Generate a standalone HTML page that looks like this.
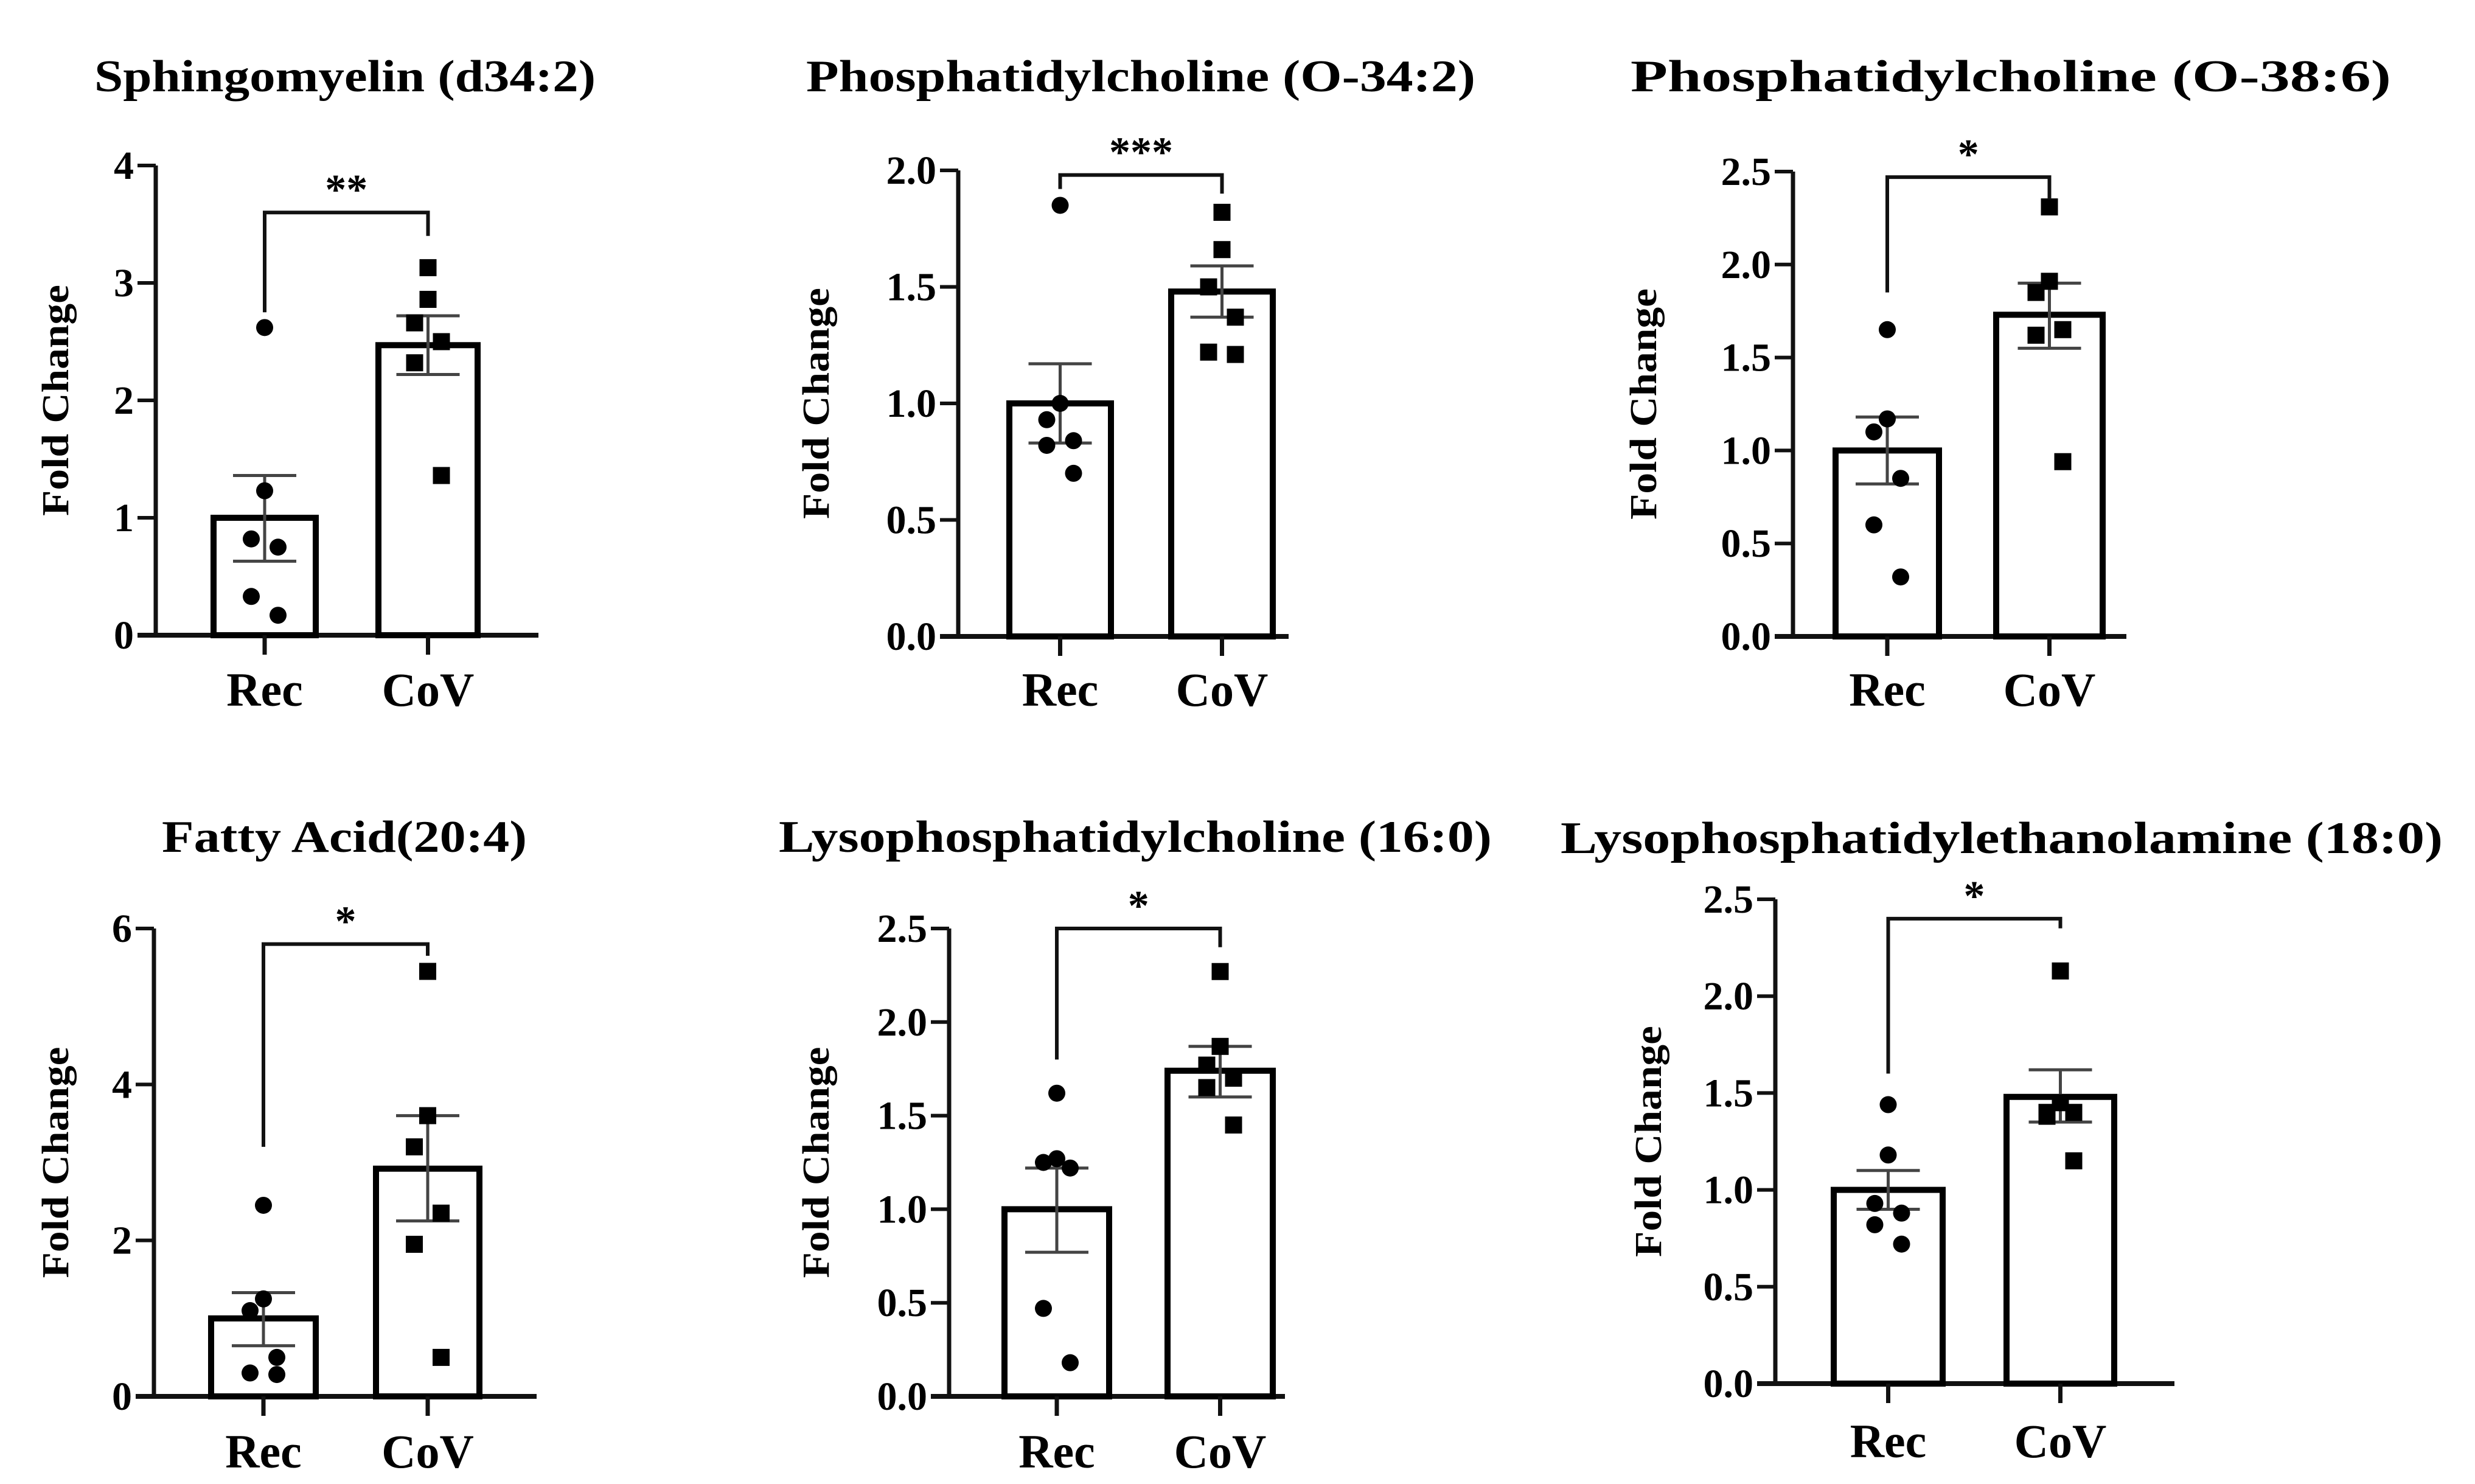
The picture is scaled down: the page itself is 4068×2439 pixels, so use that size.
<!DOCTYPE html>
<html><head><meta charset="utf-8">
<style>
html,body{margin:0;padding:0;background:#fff;}
svg{display:block;font-family:"Liberation Serif",serif;font-weight:bold;}
</style></head>
<body>
<svg id="fig" width="4068" height="2439" viewBox="0 0 4068 2439" xmlns="http://www.w3.org/2000/svg"></svg>
<script>
// ---- data ----
const titles = ["Sphingomyelin (d34:2)","Phosphatidylcholine (O-34:2)","Phosphatidylcholine (O-38:6)","Fatty Acid(20:4)","Lysophosphatidylcholine (16:0)","Lysophosphatidylethanolamine (18:0)"];
const categories = ["Rec","CoV"];
const sigLabels = ["**","***","*","*","*","*"];
const yMax = [4,2.0,2.5,6,2.5,2.5];
const yStep = [1,0.5,0.5,2,0.5,0.5];
const tickDecimals = [0,1,1,0,1,1];
const recMean = [1.0,1.0,1.0,1.0,1.0,1.0];
const recErrHi = [1.36,1.17,1.18,1.33,1.22,1.10];
const recErrLo = [0.63,0.83,0.82,0.65,0.77,0.90];
const covMean = [2.47,1.48,1.73,2.92,1.74,1.48];
const covErrHi = [2.72,1.59,1.90,3.60,1.87,1.62];
const covErrLo = [2.22,1.37,1.55,2.25,1.60,1.35];
const recPoints = [
 [2.62,1.23,0.82,0.75,0.33,0.17],
 [1.85,1.00,0.93,0.84,0.82,0.70],
 [1.65,1.17,1.10,0.85,0.60,0.32],
 [2.45,1.25,1.10,0.50,0.30,0.28],
 [1.62,1.27,1.25,1.22,0.47,0.18],
 [1.44,1.18,0.93,0.88,0.82,0.72]];
const covPoints = [
 [3.13,2.86,2.66,2.50,2.32,1.36],
 [1.82,1.66,1.50,1.37,1.22,1.21],
 [2.31,1.91,1.85,1.65,1.62,0.94],
 [5.45,3.60,3.20,2.35,1.95,0.50],
 [2.27,1.87,1.77,1.70,1.65,1.45],
 [2.13,1.45,1.40,1.40,1.38,1.15]];
const bracketY = [3.6,1.98,2.47,5.8,2.5,2.4];
const bracketLeftEnd = [2.75,1.92,1.85,3.2,1.8,1.6];
const bracketRightEnd = [3.4,1.9,2.35,5.65,2.4,2.35];

// ---- layout (pixels) ----
const layout = [
 {ax:256,top:272,bot:1044,end:885,rec:[351,519],cov:[622,785],tx:567,ty:150,tw:824,cy:1160,lx:112},
 {ax:1575,top:280,bot:1046,end:2118,rec:[1659,1826],cov:[1925,2092],tx:1875,ty:150,tw:1100,cy:1160,lx:1362},
 {ax:2947,top:282,bot:1046,end:3495,rec:[3017,3187],cov:[3281,3456],tx:3305,ty:150,tw:1250,cy:1160,lx:2722},
 {ax:253,top:1526,bot:2295,end:882,rec:[347,519],cov:[618,788],tx:566,ty:1400,tw:600,cy:2412,lx:112},
 {ax:1560,top:1526,bot:2295,end:2112,rec:[1651,1823],cov:[1919,2092],tx:1866,ty:1400,tw:1172,cy:2412,lx:1362},
 {ax:2918,top:1478,bot:2274,end:3574,rec:[3014,3193],cov:[3298,3475],tx:3290,ty:1402,tw:1450,cy:2395,lx:2730}];
const jitter = [0,0,-22,22,-22,22];

const NS = "http://www.w3.org/2000/svg";
const svg = document.getElementById('fig');
function mk(tag, attrs, parent){
  const e = document.createElementNS(NS, tag);
  for (const k in attrs) e.setAttribute(k, attrs[k]);
  (parent||svg).appendChild(e);
  return e;
}

for (let p = 0; p < 6; p++) {
  const L = layout[p];
  const g = mk('g', {});
  
  
  const y = v => L.bot - (v / yMax[p]) * (L.bot - L.top);

  const t = mk('text', {x:L.tx, y:L.ty, 'text-anchor':'middle', 'font-size':74, textLength:L.tw, lengthAdjust:'spacingAndGlyphs'}, g);
  t.textContent = titles[p];
  
  

  const yl = mk('text', {x:0, y:0, 'text-anchor':'middle', 'font-size':62, transform:`translate(${L.lx},${(L.top+L.bot)/2}) rotate(-90)`, textLength:380, lengthAdjust:'spacingAndGlyphs'}, g);
  yl.textContent = "Fold Change";
  
  

  const ya = mk('line', {x1:L.ax, y1:L.top, x2:L.ax, y2:L.bot, stroke:'#111', 'stroke-width':7}, g);
  
  
  const xa = mk('line', {x1:L.ax-30, y1:L.bot, x2:L.end, y2:L.bot, stroke:'#111', 'stroke-width':8}, g);
  
  

  for (let v = 0; v <= yMax[p] + 1e-9; v += yStep[p]) {
    const yy = y(v);
    mk('line', {x1:L.ax-30, y1:yy, x2:L.ax, y2:yy, stroke:'#111', 'stroke-width':6}, g);
    const tl = mk('text', {x:L.ax-36, y:yy+22, 'text-anchor':'end', 'font-size':66}, g);
    tl.textContent = v.toFixed(tickDecimals[p]);
    
    
  }

  const groups = [
    {r:L.rec, mean:recMean[p], hi:recErrHi[p], lo:recErrLo[p], pts:recPoints[p], circ:true},
    {r:L.cov, mean:covMean[p], hi:covErrHi[p], lo:covErrLo[p], pts:covPoints[p], circ:false}];
  groups.forEach((G, i) => {
    const cx = (G.r[0] + G.r[1]) / 2;
    const bar = mk('rect', {x:G.r[0], y:y(G.mean), width:G.r[1]-G.r[0], height:L.bot-y(G.mean), fill:'#fff', stroke:'#000', 'stroke-width':10}, g);
    
    
    const eb = mk('path', {d:`M${cx} ${y(G.hi)}V${y(G.lo)}M${cx-52} ${y(G.hi)}H${cx+52}M${cx-52} ${y(G.lo)}H${cx+52}`, stroke:'#444', 'stroke-width':5, fill:'none'}, g);
    
    
    G.pts.forEach((v, k) => {
      const px = cx + jitter[k];
      let m;
      if (G.circ) m = mk('circle', {cx:px, cy:y(v), r:14, fill:'#000'}, g);
      else m = mk('rect', {x:px-14, y:y(v)-14, width:28, height:28, fill:'#000'}, g);
      
      
    });
    mk('line', {x1:cx, y1:L.bot, x2:cx, y2:L.bot+32, stroke:'#111', 'stroke-width':7}, g);
    const cl = mk('text', {x:cx, y:L.cy, 'text-anchor':'middle', 'font-size':78}, g);
    cl.textContent = categories[i];
    
    
  });

  const rcx = (L.rec[0]+L.rec[1])/2, ccx = (L.cov[0]+L.cov[1])/2;
  const by = y(bracketY[p]);
  const br = mk('path', {d:`M${rcx} ${y(bracketLeftEnd[p])}V${by}H${ccx}V${y(bracketRightEnd[p])}`, stroke:'#111', 'stroke-width':6, fill:'none'}, g);
  
  
  const st = mk('text', {x:(rcx+ccx)/2, y:by-14, 'text-anchor':'middle', 'font-size':70}, g);
  st.textContent = sigLabels[p];
  
  
}
</script>
</body></html>
